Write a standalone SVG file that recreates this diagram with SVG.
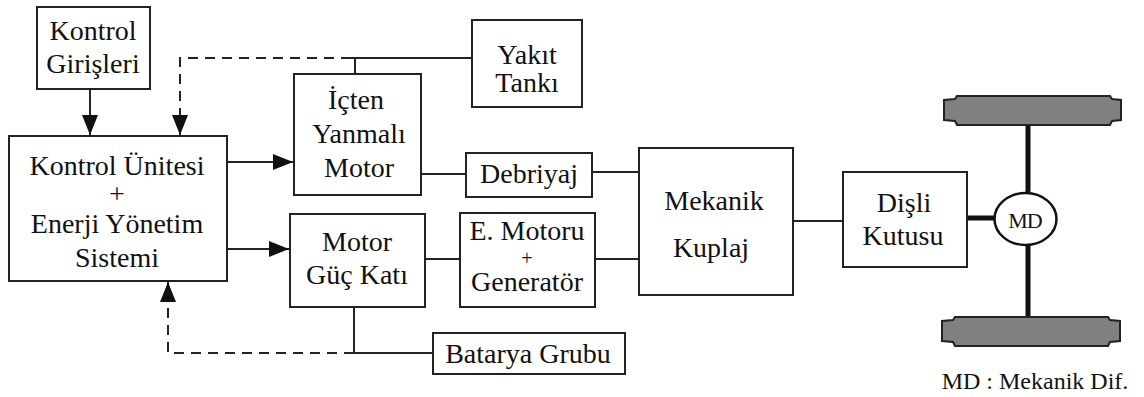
<svg xmlns="http://www.w3.org/2000/svg" width="1144" height="397" viewBox="0 0 1144 397" font-family="Liberation Serif, serif">
  <defs>
    <style>
      .box { fill: #ffffff; stroke: #222222; stroke-width: 2; }
      text { font-family: "Liberation Serif", serif; font-size: 28px; fill: #111111; text-anchor: middle; }
      .wire { fill: none; stroke: #222222; stroke-width: 2; }
      .dash { fill: none; stroke: #222222; stroke-width: 2; stroke-dasharray: 10 7; }
      .axle { fill: none; stroke: #111111; stroke-width: 5; }
      .wheel { fill: #808080; stroke: #222222; stroke-width: 2; }
    </style>
    <marker id="arrow" markerUnits="userSpaceOnUse" markerWidth="20" markerHeight="16" refX="20" refY="8" orient="auto">
      <path d="M0,0 L20,8 L0,16 Z" fill="#111111"/>
    </marker>
  </defs>

  <!-- connectors -->
  <g id="connectors">
    <line class="wire" x1="90" y1="89" x2="90" y2="135" marker-end="url(#arrow)"/>
    <path class="dash" d="M180,135 V58 H350"/>
    <line class="wire" x1="180" y1="115" x2="180" y2="135" marker-end="url(#arrow)"/>
    <path class="wire" d="M350,58 H472 M355,58 V74"/>
    <line class="wire" x1="227" y1="162" x2="293" y2="162" marker-end="url(#arrow)"/>
    <line class="wire" x1="227" y1="249" x2="289" y2="249" marker-end="url(#arrow)"/>
    <line class="wire" x1="421" y1="174" x2="466" y2="174"/>
    <line class="wire" x1="592" y1="172" x2="639" y2="172"/>
    <line class="wire" x1="425" y1="259" x2="460" y2="259"/>
    <line class="wire" x1="595" y1="259" x2="639" y2="259"/>
    <line class="wire" x1="793" y1="221" x2="843" y2="221"/>
    <path class="wire" d="M354,307 V353 H433"/>
    <path class="dash" d="M354,353 H168 V300"/>
    <line class="wire" x1="168" y1="302" x2="168" y2="282" marker-end="url(#arrow)"/>
    <line class="axle" x1="967" y1="218" x2="995" y2="218"/>
    <line class="axle" x1="1028" y1="124" x2="1028" y2="194"/>
    <line class="axle" x1="1028" y1="244" x2="1028" y2="318"/>
  </g>

  <g id="kontrol-girisleri">
    <rect class="box" x="37" y="7" width="113" height="82"/>
    <text x="93" y="40">Kontrol</text>
    <text x="93" y="73">Girişleri</text>
  </g>

  <g id="kontrol-unitesi">
    <rect class="box" x="9" y="136" width="218" height="145"/>
    <text x="117" y="175">Kontrol Ünitesi</text>
    <text x="117" y="203">+</text>
    <text x="117" y="233">Enerji Yönetim</text>
    <text x="117" y="267">Sistemi</text>
  </g>

  <g id="icten-yanmali-motor">
    <rect class="box" x="294" y="74" width="127" height="121"/>
    <text x="356" y="109">İçten</text>
    <text x="359" y="143">Yanmalı</text>
    <text x="359" y="177">Motor</text>
  </g>

  <g id="yakit-tanki">
    <rect class="box" x="472" y="20" width="110" height="87"/>
    <text x="527" y="64">Yakıt</text>
    <text x="527" y="92">Tankı</text>
  </g>

  <g id="debriyaj">
    <rect class="box" x="466" y="153" width="126" height="44"/>
    <text x="529" y="183">Debriyaj</text>
  </g>

  <g id="motor-guc-kati">
    <rect class="box" x="290" y="214" width="135" height="93"/>
    <text x="357" y="251">Motor</text>
    <text x="357" y="284">Güç Katı</text>
  </g>

  <g id="e-motoru">
    <rect class="box" x="460" y="213" width="135" height="94"/>
    <text x="527" y="240">E. Motoru</text>
    <text x="527" y="265" style="font-size:20px">+</text>
    <text x="527" y="291">Generatör</text>
  </g>

  <g id="mekanik-kuplaj">
    <rect class="box" x="639" y="148" width="154" height="147"/>
    <text x="714" y="210">Mekanik</text>
    <text x="711" y="257">Kuplaj</text>
  </g>

  <g id="disli-kutusu">
    <rect class="box" x="843" y="172" width="124" height="95"/>
    <text x="904" y="212">Dişli</text>
    <text x="903" y="245">Kutusu</text>
  </g>

  <g id="batarya-grubu">
    <rect class="box" x="433" y="333" width="192" height="41"/>
    <text x="528" y="363">Batarya Grubu</text>
  </g>

  <g id="tekerlek-ust">
    <path class="wheel" d="M957,96 H1110 L1112,99 L1121,100 V120 L1112,121 L1110,125 H957 L955,121 L944,120 V100 L955,99 Z"/>
  </g>

  <g id="tekerlek-alt">
    <path class="wheel" d="M955,317 H1108 L1110,320 L1120,321 V341 L1110,342 L1108,346 H955 L953,342 L942,341 V321 L953,320 Z"/>
  </g>

  <g id="mekanik-diferansiyel">
    <ellipse cx="1025.5" cy="219" rx="31" ry="26" fill="#ffffff" stroke="#111111" stroke-width="2.5"/>
    <text x="1025" y="228" style="font-size:22px; letter-spacing:-1px">MD</text>
  </g>

  <text x="1035" y="389" style="font-size:24px">MD : Mekanik Dif.</text>
</svg>
